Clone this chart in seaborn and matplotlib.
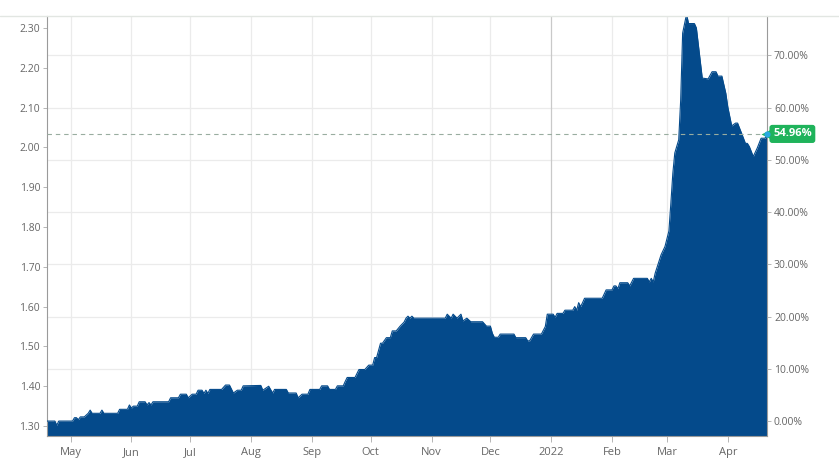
import numpy as np
import pandas as pd
import matplotlib
matplotlib.use("Agg")
import matplotlib.pyplot as plt
import matplotlib.transforms as mtransforms
from matplotlib.lines import Line2D
import seaborn as sns

# ---------------- data ----------------
start_date = "2021-04-19"
days = [0, 4, 5, 6, 13, 14, 15, 16, 17, 19, 21, 22, 23, 27, 28, 29, 36, 37, 41, 42,
        43, 44, 46, 47, 50, 51, 52, 53, 54, 62, 63, 67, 68, 71, 72, 74, 76, 77, 79, 80,
        81, 82, 83, 89, 91, 93, 95, 97, 99, 100, 109, 110, 113, 115, 116, 122, 123, 127, 128, 130,
        133, 134, 139, 140, 143, 144, 147, 148, 151, 152, 153, 157, 159, 162, 164, 166, 167, 168, 170, 171,
        173, 175, 176, 178, 180, 182, 183, 184, 185, 186, 187, 203, 204, 206, 207, 209, 211, 212, 214, 216,
        222, 224, 226, 227, 228, 230, 231, 238, 239, 244, 245, 246, 248, 252, 254, 255, 258, 259, 260, 263,
        264, 268, 269, 270, 271, 272, 273, 274, 283, 285, 288, 289, 290, 291, 292, 296, 297, 299, 306, 307,
        308, 309, 310, 313, 315, 317, 318, 319, 320, 322, 323, 324, 326, 327, 330, 331, 334, 337, 339, 341,
        342, 344, 346, 347, 349, 351, 352, 354, 356, 357, 358, 360, 362, 364, 366, 367]
prices = [1.3125, 1.3125, 1.302, 1.3125, 1.3125, 1.321, 1.321, 1.316, 1.323, 1.323, 1.332, 1.340, 1.332, 1.332, 1.340, 1.332, 1.332, 1.342, 1.342, 1.353,
          1.345, 1.350, 1.350, 1.361, 1.361, 1.353, 1.359, 1.353, 1.361, 1.361, 1.371, 1.371, 1.380, 1.380, 1.371, 1.380, 1.380, 1.390, 1.390, 1.382,
          1.390, 1.382, 1.392, 1.392, 1.403, 1.403, 1.383, 1.390, 1.390, 1.401, 1.402, 1.390, 1.400, 1.383, 1.392, 1.392, 1.383, 1.383, 1.371, 1.380,
          1.380, 1.392, 1.392, 1.401, 1.401, 1.392, 1.392, 1.401, 1.401, 1.412, 1.422, 1.422, 1.442, 1.442, 1.453, 1.453, 1.472, 1.472, 1.508, 1.508,
          1.522, 1.522, 1.539, 1.539, 1.551, 1.561, 1.571, 1.576, 1.571, 1.576, 1.571, 1.571, 1.581, 1.571, 1.581, 1.571, 1.581, 1.564, 1.571, 1.562,
          1.562, 1.551, 1.551, 1.533, 1.523, 1.523, 1.531, 1.531, 1.522, 1.522, 1.514, 1.514, 1.531, 1.531, 1.550, 1.581, 1.581, 1.573, 1.583, 1.583,
          1.591, 1.591, 1.600, 1.591, 1.610, 1.600, 1.610, 1.621, 1.621, 1.642, 1.642, 1.652, 1.652, 1.645, 1.660, 1.660, 1.652, 1.671, 1.671, 1.662,
          1.671, 1.662, 1.684, 1.730, 1.751, 1.790, 1.860, 1.935, 1.986, 2.019, 2.119, 2.287, 2.335, 2.311, 2.311, 2.300, 2.174, 2.172, 2.190, 2.190,
          2.179, 2.179, 2.136, 2.102, 2.054, 2.061, 2.061, 2.036, 2.010, 2.010, 2.002, 1.977, 1.998, 2.023, 2.023, 2.0338]

price_ticks = [1.30, 1.40, 1.50, 1.60, 1.70, 1.80, 1.90, 2.00, 2.10, 2.20, 2.30]
pct_ticks = [0, 10, 20, 30, 40, 50, 60, 70]
month_starts = ["2021-05-01", "2021-06-01", "2021-07-01", "2021-08-01", "2021-09-01", "2021-10-01",
                "2021-11-01", "2021-12-01", "2022-01-01", "2022-02-01", "2022-03-01", "2022-04-01"]
month_labels = ["May", "Jun", "Jul", "Aug", "Sep", "Oct", "Nov", "Dec", "2022", "Feb", "Mar", "Apr"]

# ---------------- style ----------------
sns.set_theme(style="white")
plt.rcParams['font.family'] = ['Open Sans', 'DejaVu Sans']

BLUE = "#044a8b"
GRID = "#ebebeb"
SPINE = "#9a9a9a"
TXT = "#666666"

df = pd.DataFrame({
    "date": pd.Timestamp(start_date) + pd.to_timedelta(days, unit="D"),
    "price": prices,
})
base = prices[0]
last = prices[-1]
last_pct = (last / base - 1) * 100
ymin, ymax = 1.275, 2.330

fig = plt.figure(figsize=(8.39, 4.71), dpi=100)
ax = fig.add_axes([47 / 839, 35 / 471, 720 / 839, 420 / 471])
ax.set_xlim(df["date"].iloc[0], df["date"].iloc[-1])
ax.set_ylim(ymin, ymax)

# grid lines (behind the area)
for p in pct_ticks:
    ax.axhline(base * (1 + p / 100), color=GRID, lw=0.9, zorder=0)
for d, lab in zip(month_starts, month_labels):
    ax.axvline(pd.Timestamp(d), color="#c9c9c9" if lab == "2022" else GRID, lw=0.9, zorder=0)

ax.fill_between(df["date"], df["price"], ymin, color=BLUE, lw=0, zorder=2)
sns.lineplot(data=df, x="date", y="price", ax=ax, color=BLUE, lw=0.8, zorder=3)
ax.set_xlabel("")
ax.set_ylabel("")

# last value dashed line
ax.axhline(last, color="#99ada0", lw=0.8, ls=(0, (4, 3.5)), zorder=4)

# axes and ticks
ax.set_yticks(price_ticks)
ax.set_yticklabels([f"{v:.2f}" for v in price_ticks])
ax.set_xticks([pd.Timestamp(d) for d in month_starts])
ax.set_xticklabels(month_labels)
ax.tick_params(axis="y", direction="out", length=3, width=0.6, color="#aaaaaa",
               labelsize=7.5, labelcolor=TXT, pad=2, left=True)
ax.tick_params(axis="x", direction="out", length=4, width=0.6, color="#aaaaaa",
               labelsize=8, labelcolor=TXT, pad=4, bottom=True)
for s in ["left", "bottom", "right"]:
    ax.spines[s].set_visible(True)
    ax.spines[s].set_color(SPINE)
    ax.spines[s].set_linewidth(0.8)
ax.spines["top"].set_visible(False)

ax2 = ax.twinx()
ax2.set_ylim((ymin / base - 1) * 100, (ymax / base - 1) * 100)
ax2.set_yticks(pct_ticks)
ax2.set_yticklabels([f"{p:.2f}%" for p in pct_ticks])
ax2.tick_params(axis="y", direction="out", length=3, width=0.6, color="#aaaaaa",
                labelsize=7.5, labelcolor=TXT, pad=2, right=True)
for s in ax2.spines.values():
    s.set_visible(False)
ax2.grid(False)

# last value tag
trans = mtransforms.blended_transform_factory(ax.transAxes, ax.transData)
ax.text(1.0, last, f"{last_pct:.2f}%", transform=trans + mtransforms.ScaledTranslation(6 / 100, 0, fig.dpi_scale_trans),
        ha="left", va="center", fontsize=8, color="white", fontweight="bold",
        bbox=dict(boxstyle="round,pad=0.32,rounding_size=0.25", fc="#1fb35b", ec="none"),
        zorder=10, clip_on=False)
ax.plot([1.0], [last], marker="<", ms=11, color="#1fb35b", mec="none", transform=trans + mtransforms.ScaledTranslation(2 / 100, 0, fig.dpi_scale_trans),
        clip_on=False, zorder=9)
ax.plot([df["date"].iloc[-1]], [last], marker="o", ms=4.5, color="#2aa9e0", mec="none", clip_on=False, zorder=11)

# thin line across the top of the figure
fig.add_artist(Line2D([0, 1], [1 - 15.5 / 471] * 2, color="#e2e6e2", lw=1.0, transform=fig.transFigure))

fig.savefig("out.png", dpi=100)
